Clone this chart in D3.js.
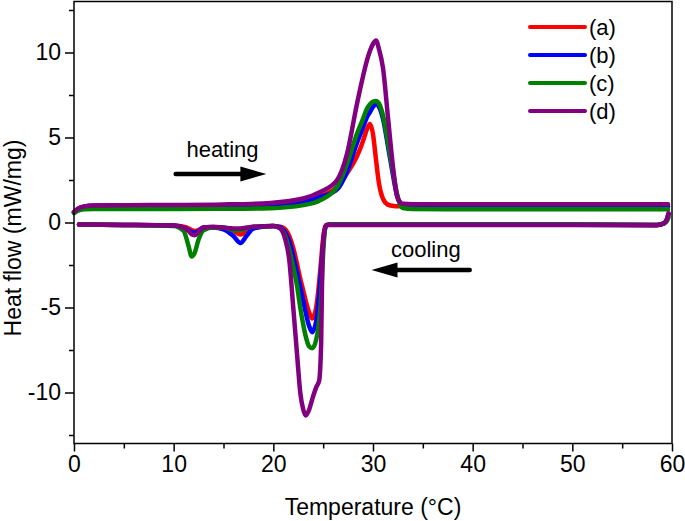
<!DOCTYPE html>
<html><head><meta charset="utf-8">
<script src="https://cdn.jsdelivr.net/npm/d3@7"></script>
<style>body{margin:0;background:#fff}svg{display:block}</style>
</head><body>
<script>
// ---- data ----
const seriesNames = ["(a)", "(b)", "(c)", "(d)"];
const seriesColors = ["#ff0000", "#0000ff", "#008000", "#800080"];
const xTicks = [0, 10, 20, 30, 40, 50, 60];
const yTicks = [-10, -5, 0, 5, 10];

// heating scans (temperature grid, heat flow per sample)
const heatT = [0, 0.4, 1, 2, 5, 10, 15, 19.7, 23, 24.7, 26.4, 27.4, 28.4, 29, 29.4, 29.7, 30, 30.3, 30.6, 31, 31.5, 32, 32.4, 32.7, 33, 34, 40, 50, 59.6];
const heatA = [0.6, 0.8, 0.92, 0.98, 1.0, 1.0, 1.02, 1.08, 1.25, 1.55, 2.1, 2.9, 3.9, 4.8, 5.5, 5.8, 5.2, 3.7, 2.3, 1.4, 1.05, 0.98, 0.95, 0.95, 0.95, 0.95, 0.95, 0.95, 0.95];
const heatB = [0.6, 0.8, 0.93, 0.98, 1.0, 1.0, 1.02, 1.08, 1.22, 1.5, 1.95, 3.0, 4.7, 5.6, 6.2, 6.5, 6.8, 6.95, 6.8, 6.1, 4.5, 2.8, 1.6, 1.15, 1.02, 0.98, 0.97, 0.96, 0.96];
const heatC = [0.55, 0.7, 0.78, 0.8, 0.8, 0.8, 0.81, 0.84, 1.02, 1.31, 2.1, 3.47, 5.23, 6.1, 6.7, 6.95, 7.1, 7.15, 7.0, 6.3, 4.7, 3.0, 1.7, 1.1, 0.85, 0.8, 0.78, 0.78, 0.78];
const heatD = [0.62, 0.82, 0.95, 1.0, 1.02, 1.03, 1.06, 1.15, 1.41, 1.8, 2.5, 4.06, 7.0, 8.6, 9.55, 10.1, 10.5, 10.7, 10.2, 9.1, 6.2, 3.3, 1.6, 1.2, 1.1, 1.08, 1.08, 1.08, 1.08];

// cooling scans
const coolT = [0.5, 5, 10, 11, 11.5, 11.8, 12.1, 12.5, 13, 14, 15, 16, 16.7, 17.3, 18, 20, 20.7, 21.2, 21.6, 22, 22.4, 22.7, 23, 23.25, 23.6, 23.9, 24.3, 24.6, 24.8, 24.9, 25.05, 25.3, 25.6, 30, 40, 50, 58.5, 59.2, 59.5, 59.65];
const coolA = [-0.12, -0.14, -0.18, -0.25, -0.35, -0.45, -0.5, -0.45, -0.3, -0.3, -0.35, -0.5, -0.7, -0.55, -0.3, -0.2, -0.25, -0.4, -0.8, -1.5, -2.5, -3.3, -4.0, -4.6, -5.3, -5.65, -5.0, -3.5, -2.2, -1.5, -0.7, -0.2, -0.12, -0.12, -0.12, -0.12, -0.14, -0.05, 0.2, 0.5];
const coolB = [-0.12, -0.14, -0.18, -0.3, -0.45, -0.55, -0.6, -0.5, -0.3, -0.3, -0.4, -0.8, -1.2, -0.8, -0.35, -0.2, -0.28, -0.6, -1.1, -2.0, -3.0, -3.8, -4.6, -5.3, -6.1, -6.45, -5.8, -4.2, -2.8, -2.0, -1.0, -0.2, -0.12, -0.12, -0.12, -0.12, -0.14, -0.05, 0.2, 0.5];
const coolC = [-0.12, -0.14, -0.2, -0.5, -1.4, -2.0, -1.8, -1.0, -0.45, -0.3, -0.3, -0.45, -0.45, -0.35, -0.25, -0.2, -0.35, -0.8, -1.6, -2.6, -3.8, -5.0, -6.0, -6.7, -7.3, -7.4, -6.9, -5.8, -4.3, -3.0, -1.3, -0.2, -0.12, -0.12, -0.12, -0.12, -0.14, -0.05, 0.1, 0.3];
const coolD = [-0.12, -0.14, -0.18, -0.3, -0.5, -0.7, -0.75, -0.55, -0.3, -0.25, -0.3, -0.35, -0.35, -0.3, -0.25, -0.2, -0.35, -1.0, -2.2, -5.0, -7.9, -10.0, -11.0, -11.35, -11.0, -10.4, -9.7, -9.3, -7.0, -3.0, -0.8, -0.15, -0.15, -0.15, -0.15, -0.15, -0.16, -0.05, 0.2, 0.55];

const heatSeries = [heatA, heatB, heatC, heatD];
const coolSeries = [coolA, coolB, coolC, coolD];

// ---- drawing ----
const W = 685, H = 521;
const svg = d3.select("body").append("svg").attr("width", W).attr("height", H);
svg.append("rect").attr("width", W).attr("height", H).attr("fill", "#fff");
const font = "'Liberation Sans', Arial, sans-serif";

const x = d3.scaleLinear().domain([0, 60]).range([74, 672]);
const y = d3.scaleLinear().domain([-13, 13]).range([443.5, 1.5]);

const line = d3.line().x(d => x(d[0])).y(d => y(d[1])).curve(d3.curveMonotoneX);

const gCurves = svg.append("g");
for (let i = 0; i < 4; i++) {
  const hd = heatT.map((t, k) => [t, heatSeries[i][k]]);
  const cd = coolT.map((t, k) => [t, coolSeries[i][k]]);
  [hd, cd].forEach(d => {
    gCurves.append("path").attr("d", line(d)).attr("fill", "none")
      .attr("stroke", seriesColors[i]).attr("stroke-width", 4.5)
      .attr("stroke-linejoin", "round").attr("stroke-linecap", "round");
  });
}

// frame
svg.append("rect").attr("x", x(0)).attr("y", y(13)).attr("width", x(60) - x(0)).attr("height", y(-13) - y(13))
  .attr("fill", "none").attr("stroke", "#000").attr("stroke-width", 1.5);

// axes
const xAxis = d3.axisBottom(x).tickValues(xTicks).tickSize(8).tickPadding(4).tickFormat(d3.format("d"));
const gx = svg.append("g").attr("transform", `translate(0,${y(-13)})`).call(xAxis);
const xMinor = d3.axisBottom(x).tickValues([5, 15, 25, 35, 45, 55]).tickSize(5).tickFormat("");
svg.append("g").attr("transform", `translate(0,${y(-13)})`).call(xMinor);

const yAxis = d3.axisLeft(y).tickValues(yTicks).tickSize(9).tickPadding(4).tickFormat(d => d < 0 ? "-" + Math.abs(d) : String(d));
const gy = svg.append("g").attr("transform", `translate(${x(0)},0)`).call(yAxis);
const yMinor = d3.axisLeft(y).tickValues([-12.5, -7.5, -2.5, 2.5, 7.5, 12.5]).tickSize(5).tickFormat("");
svg.append("g").attr("transform", `translate(${x(0)},0)`).call(yMinor);

svg.selectAll(".domain").remove();
svg.selectAll(".tick line").attr("stroke", "#000").attr("stroke-width", 1.5);
svg.selectAll(".tick text").attr("font-family", font).attr("font-size", 23).attr("fill", "#000");

// axis titles
svg.append("text").attr("x", (x(0) + x(60)) / 2).attr("y", 515).attr("text-anchor", "middle")
  .attr("font-family", font).attr("font-size", 23).text("Temperature (°C)");
svg.append("text").attr("transform", "translate(21,238) rotate(-90)").attr("text-anchor", "middle")
  .attr("font-family", font).attr("font-size", 23).text("Heat flow (mW/mg)");

// legend
seriesNames.forEach((n, i) => {
  const yy = 27 + i * 28;
  svg.append("line").attr("x1", 530).attr("x2", 585).attr("y1", yy).attr("y2", yy)
    .attr("stroke", seriesColors[i]).attr("stroke-width", 4).attr("stroke-linecap", "round");
  svg.append("text").attr("x", 589).attr("y", yy).attr("dy", "0.35em")
    .attr("font-family", font).attr("font-size", 22).text(n);
});

// annotations
function arrow(t0, t1, v) {
  const x0 = x(t0), x1 = x(t1), yy = y(v);
  const dir = x1 > x0 ? 1 : -1;
  const headLen = 26, hh = 7.5;
  svg.append("line").attr("x1", x0).attr("x2", x1 - dir * headLen + dir * 2).attr("y1", yy).attr("y2", yy)
    .attr("stroke", "#000").attr("stroke-width", 4.5).attr("stroke-linecap", "round");
  svg.append("path").attr("d", `M${x1},${yy} L${x1 - dir * headLen},${yy - hh} L${x1 - dir * headLen},${yy + hh} Z`).attr("fill", "#000");
}
svg.append("text").attr("x", x(14.9)).attr("y", y(3.85)).attr("text-anchor", "middle")
  .attr("font-family", font).attr("font-size", 22).text("heating");
arrow(10.2, 19.3, 2.85);
svg.append("text").attr("x", x(35.3)).attr("y", y(-2.0)).attr("text-anchor", "middle")
  .attr("font-family", font).attr("font-size", 22).text("cooling");
arrow(39.7, 29.85, -2.8);
</script>
</body></html>
